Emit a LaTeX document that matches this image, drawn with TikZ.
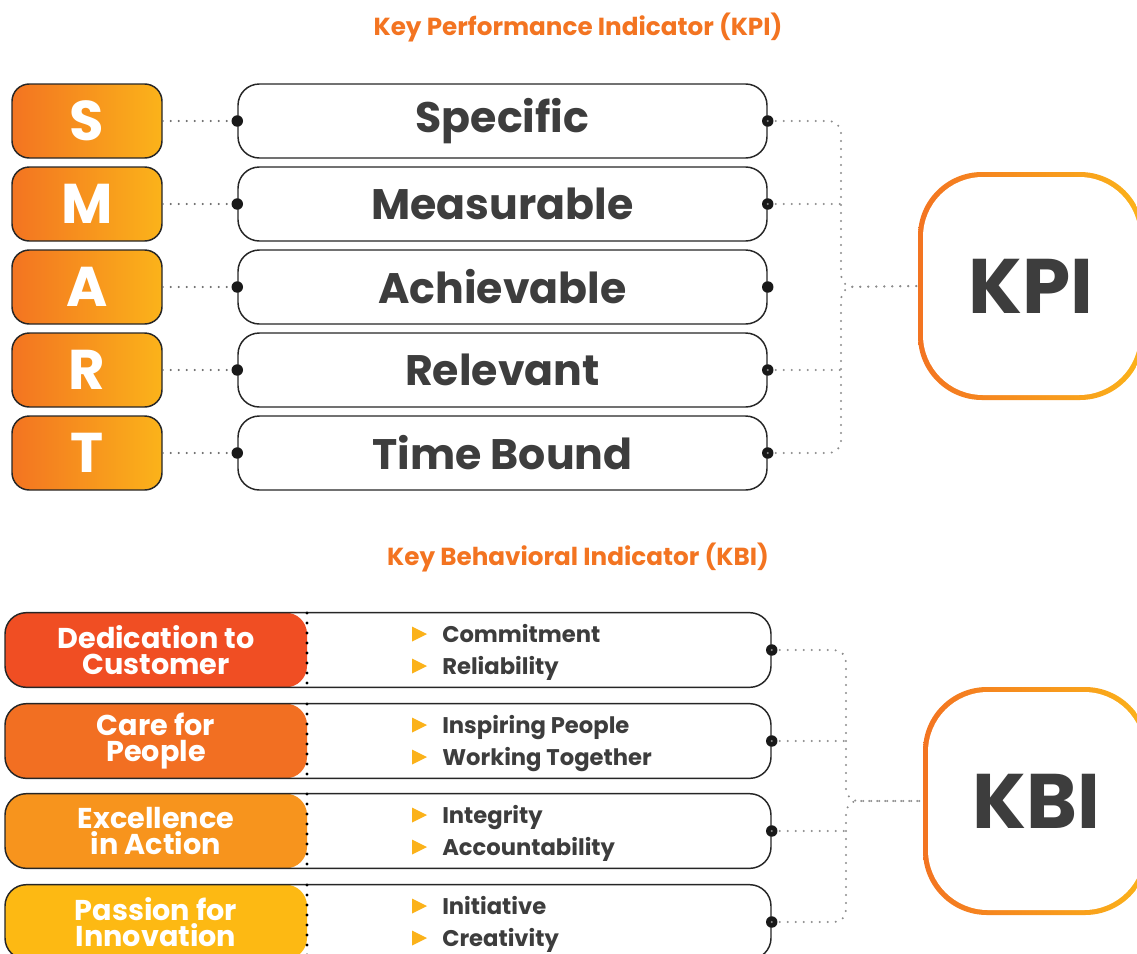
\documentclass[tikz,border=0pt]{standalone}
\usepackage{fontspec}
\setmainfont{Poppins}
\usetikzlibrary{positioning}

\definecolor{kpiorange}{HTML}{F37421}
\definecolor{kpiyellow}{HTML}{FBB31A}
\definecolor{txtgray}{HTML}{3D3D3D}
\definecolor{dedcol}{HTML}{F04E23}
\definecolor{carecol}{HTML}{F26F22}
\definecolor{exccol}{HTML}{F7941D}
\definecolor{pascol}{HTML}{FDB913}
\definecolor{bulletcol}{HTML}{FBB21A}

\tikzset{
  title/.style={text=kpiorange, font=\fontsize{18.5}{20}\selectfont\bfseries},
  letterbox/.style={draw=black!85, line width=1.1pt, rounded corners=13pt,
    left color=kpiorange, right color=kpiyellow, minimum width=112.5pt,
    minimum height=55.5pt, text=white, font=\fontsize{42}{42}\selectfont\bfseries},
  wordbox/.style={draw=black!85, line width=1.1pt, rounded corners=16pt, fill=white,
    minimum width=396.75pt, minimum height=55.5pt, text=txtgray,
    font=\fontsize{32}{32}\selectfont\bfseries},
  bigbox/.style={rounded corners=48pt, left color=kpiorange, right color=kpiyellow,
    minimum width=169.5pt, minimum height=171pt, text=txtgray,
    font=\fontsize{58}{58}\selectfont\bfseries,
    path picture={\fill[white, rounded corners=45pt]
      ([shift={(3.75pt,3.75pt)}]path picture bounding box.south west) rectangle
      ([shift={(-3.75pt,-3.75pt)}]path picture bounding box.north east);}},
  rowbox/.style={draw=black!85, line width=1.1pt, rounded corners=16pt, fill=white,
    minimum width=574.5pt, minimum height=56pt,
    path picture={\fill[#1] (path picture bounding box.north west) rectangle
      ([xshift=226.5pt]path picture bounding box.south west);}},
  rowlabel/.style={text=white, align=center, font=\fontsize{21.5}{19.5}\selectfont\bfseries},
  item/.style={text=txtgray, anchor=base west, inner sep=0pt,
    font=\fontsize{17}{17}\selectfont\bfseries},
  link/.style={black!60, line width=1.7pt, line cap=round, dash pattern=on 0pt off 6pt},
  brace/.style={black!45, line width=1.7pt, line cap=round, dash pattern=on 0pt off 6pt},
  divider/.style={black, line width=2.4pt, line cap=round, dash pattern=on 0pt off 7.5pt},
  dotcol/.style={fill=black!90}
}

\begin{document}
\begin{tikzpicture}[x=0.75pt,y=-0.75pt]
  \useasboundingbox (0,0) rectangle (1137,953);
  \clip (0,0) rectangle (1137,953);

  % SMART -> KPI
  \node[title] (kpititle) at (578,28) {Key Performance Indicator (KPI)};
  \foreach \name/\letter/\word/\y in {s/S/Specific/121, m/M/Measurable/204,
      a/A/Achievable/287, r/R/Relevant/370, t/T/Time Bound/453} {
    \node[letterbox] (box\name) at (87,\y) {\letter};
    \node[wordbox] (word\name) at (502.5,\y) {\word};
    \draw[link] (box\name.east) -- (word\name.west);
    \fill[dotcol] (word\name.west) circle (4.3pt) (word\name.east) circle (4.3pt);
  }
  \node[bigbox] (kpi) at (1031,286) {KPI};
  \coordinate (kpibrace) at (841,287);
  \draw[brace, rounded corners=9pt] (words.east) -| (kpibrace) -- (kpi.west);
  \draw[brace, rounded corners=9pt] (wordt.east) -| (kpibrace) -- (kpi.west);
  \draw[brace] (wordm.east) -- (wordm.east -| kpibrace);
  \draw[brace] (wordr.east) -- (wordr.east -| kpibrace);

  % values -> KBI
  \node[title] (kbititle) at (578,557) {Key Behavioral Indicator (KBI)};
  \foreach \name/\col/\lab/\itema/\itemb/\y in {
      ded/dedcol/{Dedication to\\Customer}/Commitment/Reliability/650,
      care/carecol/{Care for\\People}/Inspiring People/Working Together/741,
      exc/exccol/{Excellence\\in Action}/Integrity/Accountability/831,
      pas/pascol/{Passion for\\Innovation}/Initiative/Creativity/922} {
    \node[rowbox=\col] (row\name) at (388,\y) {};
    \node[rowlabel] (lab\name) at (156,\y) {\lab};
    \draw[divider] (307,\y-37) -- (307,\y+37);
    \fill[bulletcol] (412,\y-23.5) -- ++(15,7.5) -- ++(-15,7.5) -- cycle;
    \fill[bulletcol] (412,\y+8.5) -- ++(15,7.5) -- ++(-15,7.5) -- cycle;
    \node[item] (item\name a) at (442,\y-8) {\itema};
    \node[item] (item\name b) at (442,\y+24) {\itemb};
    \fill[dotcol] (row\name.east) circle (4.3pt);
  }
  \node[bigbox] (kbi) at (1036,801) {KBI};
  \coordinate (kbibrace) at (846,801);
  \draw[brace, rounded corners=9pt] (rowded.east) -| (kbibrace) -- (kbi.west);
  \draw[brace, rounded corners=9pt] (rowpas.east) -| (kbibrace) -- (kbi.west);
  \draw[brace] (rowcare.east) -- (rowcare.east -| kbibrace);
  \draw[brace] (rowexc.east) -- (rowexc.east -| kbibrace);
\end{tikzpicture}
\end{document}
